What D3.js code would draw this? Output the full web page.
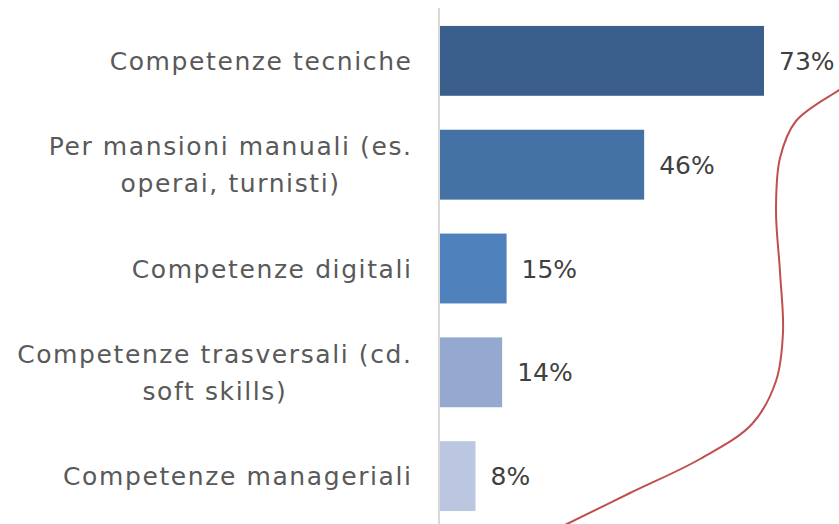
<!DOCTYPE html>
<html>
<head>
<meta charset="utf-8">
<script src="https://cdn.jsdelivr.net/npm/d3@7"></script>
<style>
  body { margin: 0; background: #fff; }
  text { font-family: "DejaVu Sans", sans-serif; }
</style>
</head>
<body>
<div id="chart"></div>
<script>
// data
var categories = [
  ["Competenze tecniche"],
  ["Per mansioni manuali (es.", "operai, turnisti)"],
  ["Competenze digitali"],
  ["Competenze trasversali (cd.", "soft skills)"],
  ["Competenze manageriali"]
];
var values = [73, 46, 15, 14, 8];
var colors = ["#3B5F8C", "#4472A5", "#4F81BD", "#95A9D0", "#BBC7E0"];

// decorative red line (pixel space)
var curvePts = [
  [852, 81], [839, 90], [796, 121], [780, 158], [776, 210],
  [780, 272], [783, 332], [776, 381], [752, 424], [700, 459],
  [630, 493], [567, 524], [552, 531]
];

var W = 839, H = 524;
var margin = {left: 440};
var labelRight = 411;

var svg = d3.select("#chart")
  .append("svg")
    .attr("width", W)
    .attr("height", H);

var x = d3.scaleLinear()
  .domain([0, 73])
  .range([margin.left, 764]);

var y = d3.scaleBand()
  .domain(d3.range(values.length))
  .range([9, 528])
  .paddingInner(0.327)
  .paddingOuter(0.163);

// bars
svg.selectAll("rect.bar")
  .data(values)
  .enter().append("rect")
    .attr("class", "bar")
    .attr("x", x(0))
    .attr("y", function(d, i) { return y(i); })
    .attr("width", function(d) { return x(d) - x(0); })
    .attr("height", y.bandwidth())
    .attr("fill", function(d, i) { return colors[i]; });

// axis line
svg.append("line")
  .attr("x1", x(0) - 1).attr("x2", x(0) - 1)
  .attr("y1", 8).attr("y2", H)
  .attr("stroke", "#D9D9D9")
  .attr("stroke-width", 2);

// category labels (multi-line ones centred on the block)
var lineH = 37, ls = 1.6;
categories.forEach(function(lines, i) {
  var g = svg.append("g").attr("class", "cat");
  var cy = y(i) + y.bandwidth() / 2 - (lines.length - 1) * lineH / 2;
  var texts = lines.map(function(line, j) {
    return g.append("text")
      .attr("y", cy + j * lineH)
      .attr("dy", "0.36em")
      .attr("fill", "#595959")
      .style("font-size", "25px")
      .style("letter-spacing", ls + "px")
      .text(line);
  });
  var maxW = d3.max(texts, function(t) { return t.node().getComputedTextLength(); });
  texts.forEach(function(t) {
    var w = t.node().getComputedTextLength();
    t.attr("x", labelRight + ls - maxW / 2 - w / 2);
  });
});

// value labels
svg.selectAll("text.val")
  .data(values)
  .enter().append("text")
    .attr("class", "val")
    .attr("x", function(d) { return x(d) + 15; })
    .attr("y", function(d, i) { return y(i) + y.bandwidth() / 2; })
    .attr("dy", "0.36em")
    .attr("fill", "#404040")
    .style("font-size", "25px")
    .text(function(d) { return d + "%"; });

// red curve
svg.append("path")
  .datum(curvePts)
  .attr("fill", "none")
  .attr("stroke", "#C0504D")
  .attr("stroke-width", 2)
  .attr("d", d3.line().curve(d3.curveCatmullRom));
</script>
</body>
</html>
